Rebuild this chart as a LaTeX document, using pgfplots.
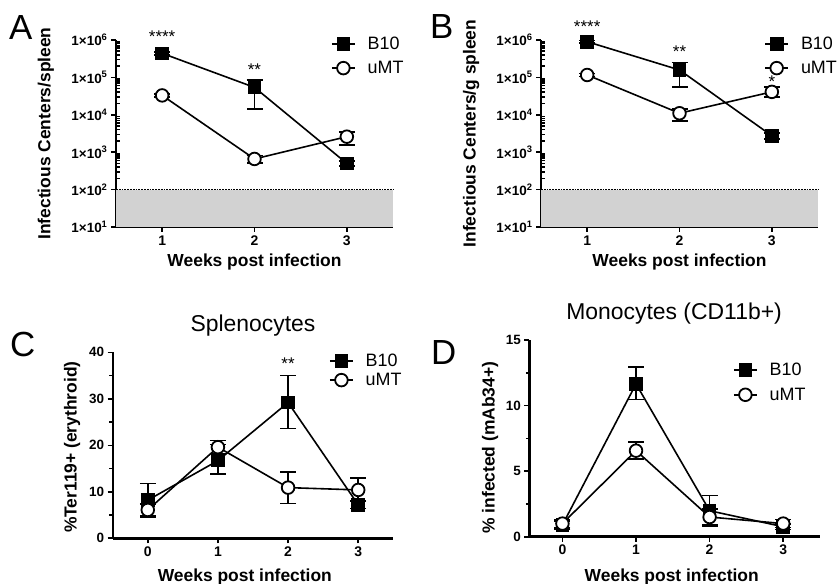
\documentclass[border=0pt]{standalone}
\usepackage{fontspec}
\setmainfont{Liberation Sans}
\usepackage{pgfplots}
\pgfplotsset{compat=1.18}

\newcommand\fs[1]{\fontsize{#1}{#1}\selectfont}
\newcommand\sci[1]{1×10\textsuperscript{#1}}

\pgfplotsset{
  panel/.style={
    scale only axis,
    anchor=south west,
    axis lines=left,
    axis line style={-, line width=2.4bp},
    tick style={black, line width=1.6bp},
    major tick length=5bp,
    minor tick length=3.5bp,
    tick align=outside,
    yticklabel style={font=\bfseries\fs{13.5}},
    xticklabel style={font=\bfseries\fs{14}},
    xlabel style={font=\bfseries\fs{17.5}, anchor=center},
    ylabel style={font=\bfseries\fs{17.5}, anchor=center},
    title style={font=\fs{23}, anchor=base},
    legend style={draw=none, fill=none, font=\fs{18}, anchor=north west, column sep=10bp},
    legend cell align=left,
    legend image code/.code={\draw[mark repeat=2, mark phase=2] plot coordinates {(0bp,0bp) (11.5bp,0bp) (23bp,0bp)};},
    clip=false,
  },
  b10/.style={black, line width=1.6bp, mark=square*, mark size=6.3bp,
    mark options={solid, line width=1bp},
    error bars/y dir=both, error bars/y explicit,
    error bars/error bar style={line width=1.6bp},
    error bars/error mark options={rotate=90, mark size=8bp, line width=1.6bp}},
  umt/.style={black, line width=1.6bp, mark=*, mark size=6.3bp,
    mark options={solid, fill=white, line width=1.8bp},
    error bars/y dir=both, error bars/y explicit,
    error bars/error bar style={line width=1.6bp},
    error bars/error mark options={rotate=90, mark size=8bp, line width=1.6bp}},
  stars/.style={forget plot, only marks, mark=none, nodes near coords,
    point meta=explicit symbolic,
    nodes near coords style={font=\fs{17}, anchor=center, yshift=-2bp}},
}

\begin{document}
\begin{tikzpicture}
\useasboundingbox (0bp,0bp) rectangle (839bp,584bp);

\node[anchor=base west, font=\fs{35}, inner sep=0] at (9bp,544bp) {A};
\node[anchor=base west, font=\fs{35}, inner sep=0] at (430bp,545bp) {B};
\node[anchor=base west, font=\fs{35}, inner sep=0] at (10bp,227bp) {C};
\node[anchor=base west, font=\fs{35}, inner sep=0] at (431bp,219bp) {D};

% A
\begin{axis}[panel, ymode=log, at={(116bp,357bp)},
  width=277bp, height=187bp,
  ymin=10, ymax=1e6, xmin=0.5, xmax=3.5,
  xtick={1,2,3}, xticklabels={1,2,3},
  ytick={10,100,1000,1e4,1e5,1e6},
  yticklabels={\sci{1},\sci{2},\sci{3},\sci{4},\sci{5},\sci{6}},
  minor ytick={20,30,40,50,60,70,80,90,200,300,400,500,600,700,800,900,2000,3000,4000,5000,6000,7000,8000,9000,2e4,3e4,4e4,5e4,6e4,7e4,8e4,9e4,2e5,3e5,4e5,5e5,6e5,7e5,8e5,9e5},
  minor tick style={xshift=3.5bp},
  xlabel={Weeks post infection},
  xlabel style={at={(axis description cs:0.5,-0.187)}},
  ylabel={Infectious Centers/spleen},
  ylabel style={at={(axis description cs:-0.253,0.5)}},
  legend style={at={(axis description cs:0.765,1.04)}, row sep=6.5bp}]
\addplot[forget plot, draw=none, fill=gray!35] coordinates {(0.5,10) (3.5,10) (3.5,100) (0.5,100)};
\addplot[forget plot, densely dotted, line width=1.8bp] coordinates {(0.5,100) (3.5,100)};
\addplot[b10] coordinates {(1,4.4e5) +=(0,4e4) -=(0,4e4) (2,5.4e4) +=(0,3.1e4) -=(0,3.95e4) (3,500) +=(0,80) -=(0,80)};
\addplot[umt] coordinates {(1,3.3e4) +=(0,3e3) -=(0,3e3) (2,660) +=(0,150) -=(0,150) (3,2600) +=(0,900) -=(0,1050)};
\addplot[stars] coordinates {(1,1.4e6)[****] (2,1.84e5)[**]};
\legend{B10,uMT}
\end{axis}

% B
\begin{axis}[panel, ymode=log, at={(541bp,357bp)},
  width=277bp, height=187bp,
  ymin=10, ymax=1e6, xmin=0.5, xmax=3.5,
  xtick={1,2,3}, xticklabels={1,2,3},
  ytick={10,100,1000,1e4,1e5,1e6},
  yticklabels={\sci{1},\sci{2},\sci{3},\sci{4},\sci{5},\sci{6}},
  minor ytick={20,30,40,50,60,70,80,90,200,300,400,500,600,700,800,900,2000,3000,4000,5000,6000,7000,8000,9000,2e4,3e4,4e4,5e4,6e4,7e4,8e4,9e4,2e5,3e5,4e5,5e5,6e5,7e5,8e5,9e5},
  minor tick style={xshift=3.5bp},
  xlabel={Weeks post infection},
  xlabel style={at={(axis description cs:0.5,-0.187)}},
  ylabel={Infectious Centers/g spleen},
  ylabel style={at={(axis description cs:-0.252,0.5)}},
  legend style={at={(axis description cs:0.795,1.04)}, row sep=6.5bp}]
\addplot[forget plot, draw=none, fill=gray!35] coordinates {(0.5,10) (3.5,10) (3.5,100) (0.5,100)};
\addplot[forget plot, densely dotted, line width=1.8bp] coordinates {(0.5,100) (3.5,100)};
\addplot[b10] coordinates {(1,9e5) +=(0,8e4) -=(0,8e4) (2,1.58e5) +=(0,0.92e5) -=(0,1.02e5) (3,2750) +=(0,500) -=(0,500)};
\addplot[umt] coordinates {(1,1.16e5) +=(0,1e4) -=(0,1e4) (2,1.1e4) +=(0,3.5e3) -=(0,4.1e3) (3,4.1e4) +=(0,1.4e4) -=(0,1.1e4)};
\addplot[stars] coordinates {(1,2.6e6)[****] (2,5.6e5)[**] (3,8.7e4)[*]};
\legend{B10,uMT}
\end{axis}

% C
\begin{axis}[panel, at={(112.7bp,45.7bp)},
  width=280.6bp, height=186bp,
  xmin=-0.5, xmax=3.5, xtick={0,1,2,3}, xticklabels={0,1,2,3},
  ymin=0, ymax=40, ytick={0,10,20,30,40}, yticklabels={0,10,20,30,40},
  minor ytick={5,15,25,35},
  title={Splenocytes},
  title style={at={(axis description cs:0.5,1)}, yshift=15bp},
  xlabel={Weeks post infection},
  xlabel style={at={(axis description cs:0.471,-0.208)}},
  ylabel={\%Ter119+ (erythroid)},
  ylabel style={at={(axis description cs:-0.145,0.49)}},
  legend style={at={(axis description cs:0.76,1.015)}, row sep=1.5bp}]
\addplot[b10] coordinates {(0,8.2) +=(0,3.6) -=(0,3.6) (1,16.7) +=(0,3.5) -=(0,2.9) (2,29.2) +=(0,5.8) -=(0,5.6) (3,7.2) +=(0,0.8) -=(0,0.8)};
\addplot[umt] coordinates {(0,6.1) +=(0,1.3) -=(0,1.3) (1,19.6) +=(0,1.4) -=(0,1.4) (2,10.9) +=(0,3.4) -=(0,3.4) (3,10.4) +=(0,2.6) -=(0,2.4)};
\addplot[stars] coordinates {(2,37.9)[**]};
\legend{B10,uMT}
\end{axis}

% D
\begin{axis}[panel, at={(529.3bp,47.3bp)},
  width=290.7bp, height=196.7bp,
  xmin=-0.45, xmax=3.5, xtick={0,1,2,3}, xticklabels={0,1,2,3},
  ymin=0, ymax=15, ytick={0,5,10,15}, yticklabels={0,5,10,15},
  minor ytick={2.5,7.5,12.5},
  title={Monocytes (CD11b+)},
  title style={at={(axis description cs:0.498,1)}, yshift=15bp},
  xlabel={Weeks post infection},
  xlabel style={at={(axis description cs:0.49,-0.205)}},
  ylabel={\% infected (mAb34+)},
  ylabel style={at={(axis description cs:-0.135,0.453)}},
  legend style={at={(axis description cs:0.69,0.905)}, row sep=7bp}]
\addplot[b10] coordinates {(0,0.9) +=(0,0.3) -=(0,0.3) (1,11.65) +=(0,1.3) -=(0,1.2) (2,1.98) +=(0,1.15) -=(0,1.2) (3,0.76) +=(0,0.2) -=(0,0.2)};
\addplot[umt] coordinates {(0,1.0) +=(0,0.3) -=(0,0.3) (1,6.56) +=(0,0.65) -=(0,0.65) (2,1.5) +=(0,0.6) -=(0,0.6) (3,1.0) +=(0,0.3) -=(0,0.3)};
\legend{B10,uMT}
\end{axis}
\end{tikzpicture}
\end{document}
